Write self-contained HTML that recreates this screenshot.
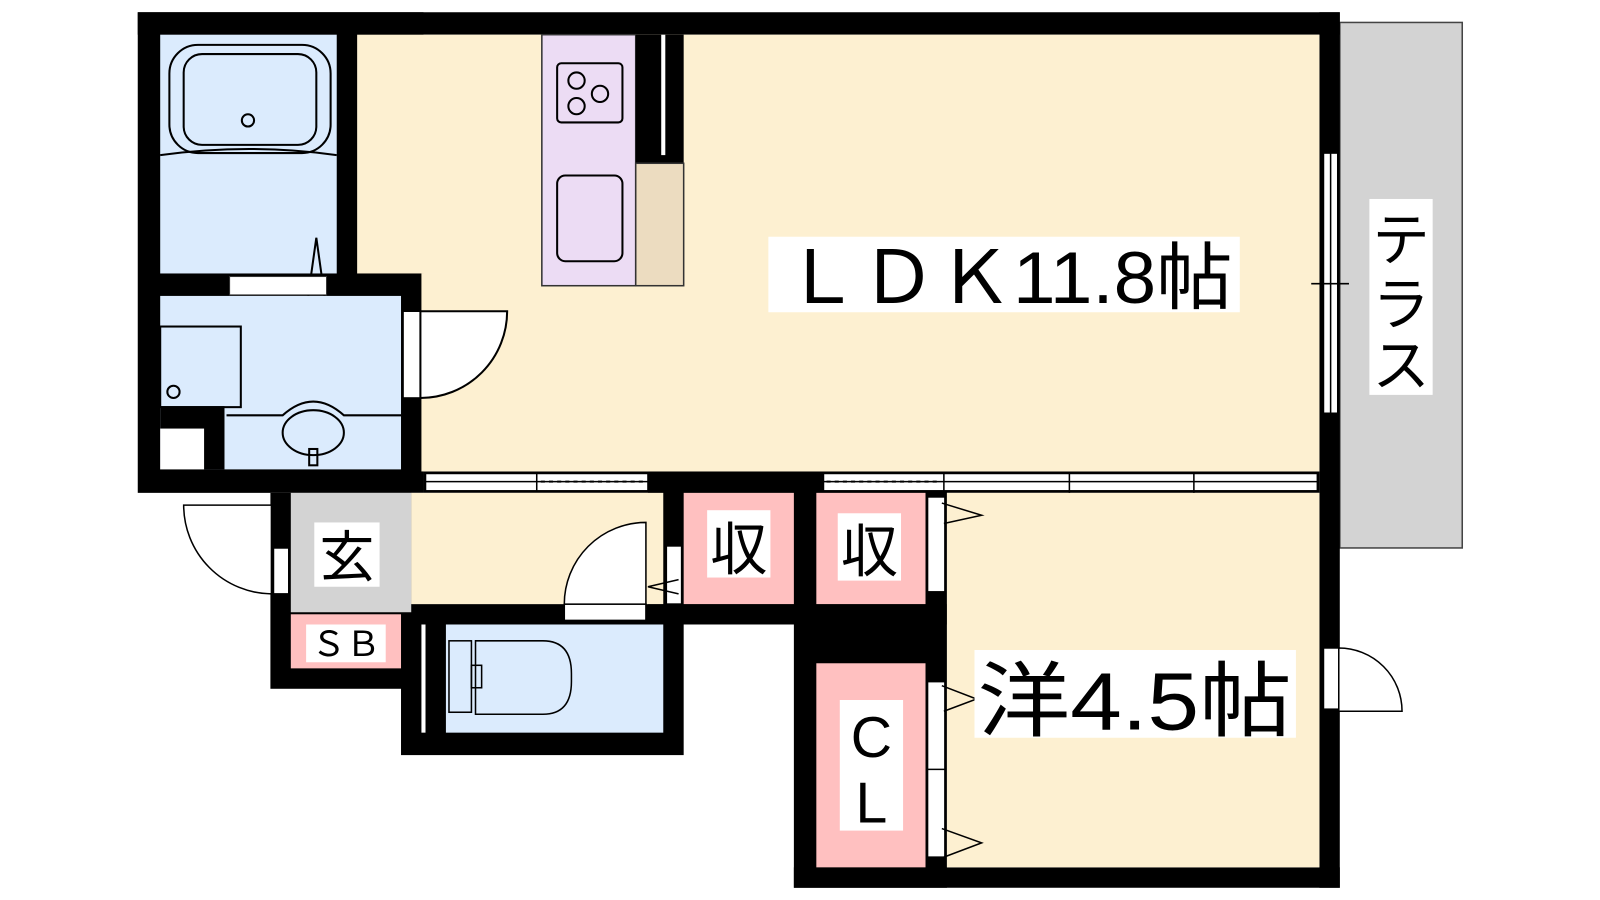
<!DOCTYPE html>
<html><head><meta charset="utf-8"><style>
html,body{margin:0;padding:0;background:#fff;width:1600px;height:900px;overflow:hidden}
text{font-family:"Liberation Sans","Noto Sans CJK JP",sans-serif;fill:#000}
</style></head><body>
<svg width="1600" height="900" viewBox="0 0 1568 882" xmlns="http://www.w3.org/2000/svg">
<!-- terrace -->
<rect x="1313" y="22" width="120" height="515" fill="#d3d3d3" stroke="#444" stroke-width="1.5"/>
<rect x="1342" y="195" width="62" height="192" fill="#fff"/>
<text x="1373" y="255" font-size="56" text-anchor="middle">テ</text>
<text x="1373" y="318" font-size="56" text-anchor="middle">ラ</text>
<text x="1373" y="378" font-size="56" text-anchor="middle">ス</text>

<!-- black wall masses -->
<g fill="#000">
<rect x="135" y="12" width="1178" height="22"/>
<rect x="135" y="12" width="280" height="471"/>
<rect x="1293" y="12" width="20" height="858"/>
<rect x="415" y="462" width="878" height="21"/>
<rect x="265" y="483" width="138" height="192"/>
<rect x="393" y="592" width="277" height="148"/>
<rect x="635" y="462" width="293" height="150"/>
<rect x="778" y="592" width="150" height="278"/>
<rect x="778" y="850" width="535" height="20"/>
</g>

<!-- rooms -->
<rect x="157" y="34" width="173" height="234" fill="#dbebfd"/>
<rect x="157" y="290" width="236" height="170" fill="#dbebfd"/>
<rect x="157" y="398" width="63" height="62" fill="#000"/>
<rect x="157" y="420" width="43" height="40" fill="#fff"/>
<rect x="350" y="34" width="943" height="234" fill="#fdf0d1"/>
<rect x="413" y="268" width="880" height="194" fill="#fdf0d1"/>
<rect x="403" y="483" width="247" height="109" fill="#fdf0d1"/>
<rect x="285" y="483" width="118" height="117" fill="#d3d3d3"/>
<rect x="285" y="602" width="108" height="53" fill="#ffc0c0"/>
<rect x="437" y="612" width="213" height="106" fill="#dbebfd"/>
<rect x="413" y="612" width="4" height="106" fill="#fff"/>
<rect x="670" y="483" width="108" height="109" fill="#ffc0c0"/>
<rect x="800" y="483" width="107" height="109" fill="#ffc0c0"/>
<rect x="800" y="650" width="107" height="200" fill="#ffc0c0"/>
<rect x="928" y="483" width="365" height="367" fill="#fdf0d1"/>

<!-- kitchen -->
<rect x="531" y="34" width="92" height="246" fill="#ecdcf4" stroke="#333" stroke-width="1.5"/>
<rect x="623" y="34" width="47" height="126" fill="#000"/>
<rect x="648" y="34" width="4" height="118" fill="#fff"/>
<rect x="623" y="160" width="47" height="120" fill="#ecdcc0" stroke="#333" stroke-width="1.5"/>
<rect x="546" y="62" width="64" height="58" rx="4" fill="none" stroke="#000" stroke-width="2"/>
<g fill="none" stroke="#000" stroke-width="2">
<circle cx="565" cy="79" r="8"/><circle cx="588" cy="92" r="8"/><circle cx="565" cy="104" r="8"/>
</g>
<rect x="546" y="172" width="64" height="84" rx="8" fill="none" stroke="#000" stroke-width="2"/>

<!-- bath fixtures -->
<g fill="none" stroke="#000" stroke-width="2">
<rect x="166" y="44" width="158" height="106" rx="28"/>
<rect x="180" y="53" width="130" height="89" rx="18"/>
<circle cx="243" cy="118" r="6"/>
<path d="M157 152 Q245 140 330 152"/>
<path d="M302 290 L310 233 L318 290"/>
<rect x="157" y="320" width="79" height="79"/>
<circle cx="170" cy="384" r="6"/>
<path d="M222 407 L277 407 Q307 380 337 407 L393 407"/>
<ellipse cx="307" cy="424" rx="30" ry="22"/>
<rect x="303" y="440" width="8" height="16"/>
</g>
<rect x="225" y="271" width="95" height="18" fill="#fff" stroke="#333"/>

<!-- washroom door -->
<rect x="395" y="305" width="17" height="85" fill="#fff" stroke="#000" stroke-width="1.5"/>
<path d="M412 305 L497 305 A85 85 0 0 1 412 390 Z" fill="#fff" stroke="#000" stroke-width="2"/>

<!-- middle windows -->
<g stroke="#000" stroke-width="1.5" fill="#fff">
<rect x="417" y="464" width="218" height="17"/>
<rect x="807" y="464" width="484" height="17"/>
<line x1="417" y1="472" x2="635" y2="472"/>
<line x1="807" y1="472" x2="1291" y2="472"/>
<line x1="526" y1="464" x2="526" y2="481"/>
<line x1="925" y1="464" x2="925" y2="481"/>
<line x1="1048" y1="464" x2="1048" y2="483"/>
<line x1="1170" y1="464" x2="1170" y2="483"/>
</g>
<line x1="530" y1="472" x2="632" y2="472" stroke="#000" stroke-width="2" stroke-dasharray="4 4"/>
<line x1="810" y1="472" x2="922" y2="472" stroke="#000" stroke-width="2" stroke-dasharray="4 4"/>

<!-- right window -->
<rect x="1297" y="150" width="14" height="255" fill="#fff" stroke="#000" stroke-width="1.5"/>
<line x1="1304" y1="150" x2="1304" y2="405" stroke="#000" stroke-width="1.5"/>
<line x1="1285" y1="278" x2="1322" y2="278" stroke="#000" stroke-width="1.5"/>

<!-- entry door -->
<rect x="268" y="537" width="15" height="45" fill="#fff" stroke="#000" stroke-width="1.5"/>
<path d="M266 582 A87 87 0 0 1 180 495 L266 495 Z" fill="#fff" stroke="#000" stroke-width="1.5"/>

<!-- toilet door -->
<rect x="553" y="592" width="80" height="16" fill="#fff" stroke="#000" stroke-width="1.5"/>
<path d="M553 592 A80 80 0 0 1 633 512 L633 592 Z" fill="#fff" stroke="#000" stroke-width="1.5"/>
<rect x="653" y="535" width="15" height="57" fill="#fff" stroke="#000" stroke-width="1.5"/>
<path d="M665 568 L635 575 L665 582" fill="none" stroke="#000" stroke-width="1.5"/>

<!-- toilet -->
<g fill="none" stroke="#000" stroke-width="1.5">
<rect x="440" y="628" width="22" height="70"/>
<path d="M466 628 L532 628 Q560 628 560 660 L560 668 Q560 700 532 700 L466 700 Z"/>
<rect x="462" y="652" width="10" height="22"/>
</g>

<!-- closet doors on western room -->
<g stroke="#000" stroke-width="1.5" fill="#fff">
<rect x="909" y="487" width="17" height="93"/>
<rect x="909" y="668" width="17" height="172"/>
<line x1="909" y1="754" x2="926" y2="754"/>
</g>
<g fill="none" stroke="#000" stroke-width="1.5">
<path d="M923 493 L962 505 L925 513"/>
<path d="M923 672 L957 685 L925 697"/>
<path d="M923 812 L962 826 L925 840"/>
</g>

<!-- right door of western room -->
<rect x="1297" y="635" width="15" height="60" fill="#fff" stroke="#000" stroke-width="1.5"/>
<path d="M1312 635 A62 62 0 0 1 1374 697 L1312 697 Z" fill="#fff" stroke="#000" stroke-width="1.5"/>

<!-- labels -->
<rect x="753" y="232" width="462" height="74" fill="#fff"/>
<text x="768" y="297" font-size="72" textLength="440" lengthAdjust="spacingAndGlyphs">ＬＤＫ11.8帖</text>
<rect x="955" y="637" width="315" height="86" fill="#fff"/>
<text x="958" y="715" font-size="80" textLength="308" lengthAdjust="spacingAndGlyphs">洋4.5帖</text>
<rect x="308" y="512" width="64" height="63" fill="#fff"/>
<text x="340" y="565" font-size="54" text-anchor="middle">玄</text>
<rect x="300" y="612" width="78" height="37" fill="#fff"/>
<text x="339" y="643" font-size="34" text-anchor="middle" textLength="68" lengthAdjust="spacingAndGlyphs">ＳＢ</text>
<rect x="693" y="500" width="62" height="66" fill="#fff"/>
<text x="724" y="558" font-size="56" text-anchor="middle">収</text>
<rect x="821" y="503" width="62" height="66" fill="#fff"/>
<text x="852" y="560" font-size="56" text-anchor="middle">収</text>
<rect x="823" y="686" width="62" height="128" fill="#fff"/>
<text x="854" y="742" font-size="56" text-anchor="middle">C</text>
<text x="854" y="806" font-size="56" text-anchor="middle">L</text>
</svg>
</body></html>
